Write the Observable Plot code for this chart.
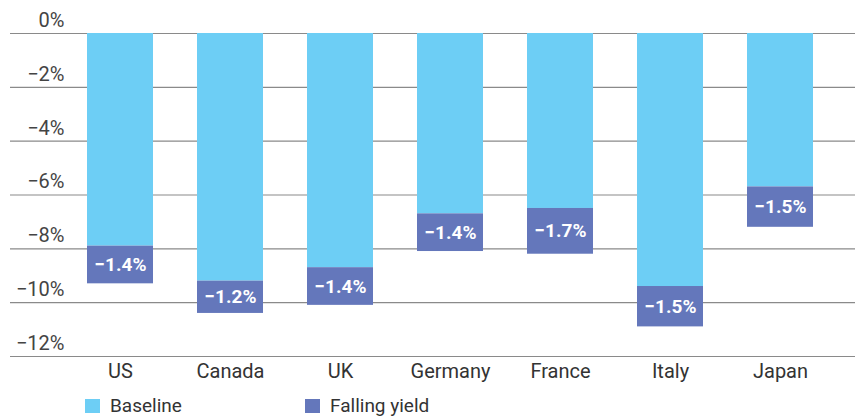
<!DOCTYPE html>
<html>
<head>
<meta charset="utf-8">
<script src="https://cdn.jsdelivr.net/npm/d3@7"></script>
<script src="https://cdn.jsdelivr.net/npm/@observablehq/plot@0.6"></script>
<style>
  body { margin: 0; background: #fff; font-family: Roboto, "Liberation Sans", sans-serif; }
  #legend { position: relative; height: 28px; font-size: 19px; color: #333; }
  .item { position: absolute; top: 5px; display: flex; align-items: center; line-height: 22px; }
  .sw { width: 15px; height: 14px; display: inline-block; margin-right: 10px; }
</style>
</head>
<body>
<div id="chart"></div>
<div id="legend"></div>
<script>
const countries = ["US", "Canada", "UK", "Germany", "France", "Italy", "Japan"];
const baseline = [-7.9, -9.2, -8.7, -6.7, -6.5, -9.4, -5.7];
const fallingYield = [-1.4, -1.2, -1.4, -1.4, -1.7, -1.5, -1.5];
const seriesNames = ["Baseline", "Falling yield"];
const colors = ["#6dcef5", "#6477bb"];
const yTicks = [0, -2, -4, -6, -8, -10, -12];

const data = [];
countries.forEach((c, i) => {
  data.push({country: c, series: seriesNames[0], value: baseline[i]});
  data.push({country: c, series: seriesNames[1], value: fallingYield[i]});
});
const fmtTick = d => d === 0 ? "0%" : "\u2212" + Math.abs(d) + "%";
const fmtLabel = d => "\u2212" + Math.abs(d).toFixed(1) + "%";

const chart = Plot.plot({
  width: 855,
  height: 390,
  marginTop: 33,
  marginBottom: 34,
  marginLeft: 10,
  marginRight: 0,
  style: {fontFamily: "Roboto, 'Liberation Sans', sans-serif", background: "#fff"},
  x: {domain: countries, range: [40.5, 858.5], padding: 0.4, label: null},
  y: {domain: [-12, 0], label: null},
  color: {domain: seriesNames, range: colors},
  marks: [
    Plot.ruleY(yTicks, {stroke: "#8a8a8a", strokeWidth: 1.2}),
    Plot.barY(data, Plot.stackY({x: "country", y: "value", fill: "series", order: seriesNames})),
    Plot.text(data, Plot.stackY({
      x: "country", y: "value", z: "series", order: seriesNames,
      text: d => d.series === seriesNames[1] ? fmtLabel(d.value) : null,
      fill: "#fff", fontSize: 19, fontWeight: "bold"
    })),
    Plot.axisY({ticks: yTicks, tickFormat: fmtTick, tickSize: 0, tickPadding: -54, dy: -13,
      fontSize: 20, fill: "#444", anchor: "left"}),
    Plot.axisX({tickSize: 0, tickPadding: 7, fontSize: 20, fill: "#333"})
  ]
});
document.getElementById("chart").append(chart);

const legend = document.getElementById("legend");
const xs = [85, 305];
seriesNames.forEach((s, i) => {
  const it = document.createElement("div");
  it.className = "item";
  it.style.left = xs[i] + "px";
  it.innerHTML = `<span class="sw" style="background:${colors[i]}"></span><span>${s}</span>`;
  legend.append(it);
});
</script>
</body>
</html>
